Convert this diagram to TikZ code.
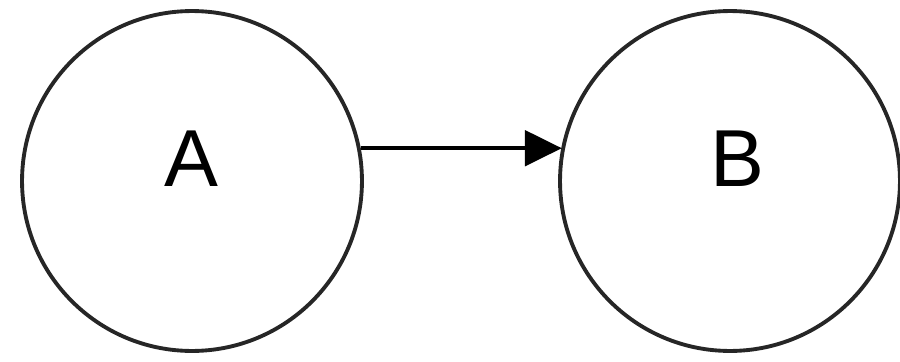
\documentclass[tikz,border=0pt]{standalone}
\usepackage{fontspec}
\setmainfont{Liberation Sans}
\usetikzlibrary{arrows.meta}
\begin{document}
\begin{tikzpicture}[x=0.02cm,y=-0.02cm,
  state/.style={circle,draw=black!85,line width=2.2pt,minimum size=6.8cm,inner sep=0pt},
  lab/.style={font=\fontsize{46}{50}\selectfont,inner sep=0pt},
  conn/.style={line width=2.6pt,-{Triangle[length=21pt,width=20pt]}}]
\useasboundingbox (0,0) rectangle (900,362);
\node[state] (a) at (192,181) {};
\node[state] (b) at (730,181) {};
\node[lab] (la) at (191,159) {A};
\node[lab] (lb) at (737,159) {B};
\coordinate (s) at (a.11.2);
\draw[conn] (s) -- (b.168.8 |- s);
\end{tikzpicture}
\end{document}
